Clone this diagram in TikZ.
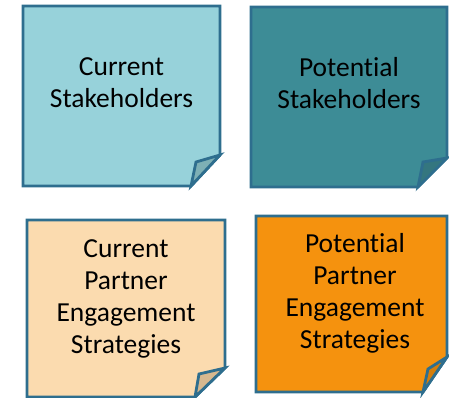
\documentclass[tikz,border=0pt]{standalone}
\usepackage{fontspec}
\setmainfont{Carlito}[Ligatures={NoCommon,NoRare,NoContextual}]
\begin{document}
\begin{tikzpicture}[x=1pt,y=-1pt,
  notebox/.style={draw={rgb,255:red,46;green,110;blue,142},line width=2.8pt,line join=miter},
  notetext/.style={align=center,font=\fontsize{27.5}{32}\selectfont,inner sep=0pt}]%
\useasboundingbox (0,0) rectangle (449,398);%
\filldraw[notebox,fill={rgb,255:red,151;green,210;blue,218}] (23,6) -- (220,6) -- (220,155) -- (191,186) -- (23,186) -- cycle;%
\filldraw[notebox,fill={rgb,255:red,126;green,176;blue,181}] (220,155) -- (196,162) -- (191,186) -- cycle;%
\node[notetext] (curstake) at (121.5,83) {Current\\Stakeholders};%
\filldraw[notebox,fill={rgb,255:red,61;green,140;blue,150}] (251,7) -- (447,7) -- (447,158) -- (418,187) -- (251,187) -- cycle;%
\filldraw[notebox,fill={rgb,255:red,52;green,118;blue,127}] (447,158) -- (423,162) -- (418,187) -- cycle;%
\node[notetext] (potstake) at (349,83) {Potent\kern0pt ial\\Stakeholders};%
\filldraw[notebox,fill={rgb,255:red,251;green,219;blue,175}] (27,220) -- (225,220) -- (225,368) -- (195,397) -- (27,397) -- cycle;%
\filldraw[notebox,fill={rgb,255:red,214;green,184;blue,143}] (225,368) -- (199,374) -- (195,397) -- cycle;%
\node[notetext] (curpart) at (126,299) {Current\\Partner\\Engagement\\Strategies};%
\filldraw[notebox,fill={rgb,255:red,245;green,146;blue,14}] (256,216) -- (447,216) -- (447,357) -- (423,392) -- (256,392) -- cycle;%
\filldraw[notebox,fill={rgb,255:red,212;green,126;blue,12}] (447,357) -- (428,369) -- (423,392) -- cycle;%
\node[notetext] (potpart) at (355,293) {Potent\kern0pt ial\\Partner\\Engagement\\Strategies};%
\end{tikzpicture}
\end{document}
